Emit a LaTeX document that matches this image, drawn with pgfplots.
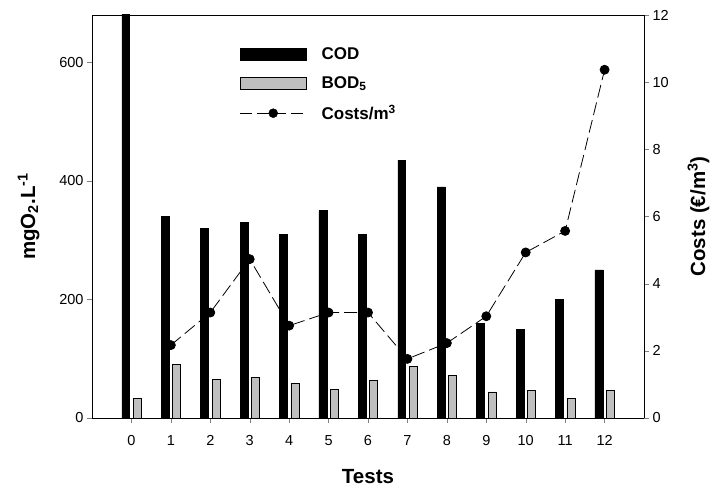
\documentclass[border=0pt]{standalone}
\usepackage{pgfplots}
\pgfplotsset{compat=1.18}
\usepackage{fontspec}
\setmainfont{Liberation Sans}
\begin{document}
\begin{tikzpicture}
\pgfplotsset{
  every axis/.append style={
    scale only axis, width=552pt, height=403pt,
    xmin=-1, xmax=13,
    tick align=outside, major tick length=5pt,
    /pgf/number format/assume math mode=true,
    tick label style={font=\fontsize{14.5}{16}\selectfont},
    label style={font=\bfseries\fontsize{20.5}{24}\selectfont},
    axis line style={line width=0.9pt},
  }
}
\begin{axis}[
  ymin=0, ymax=680,
  xtick={0,...,12}, xtick pos=bottom,
  ytick={0,200,400,600}, ytick pos=left,
  xticklabel style={yshift=-9pt},
  xlabel={Tests},
  ylabel={mgO\textsubscript{2}.L\textsuperscript{-1}},
  xlabel style={yshift=-17pt},
  ylabel style={yshift=13pt},
  ybar, bar width=0.2,
  legend style={draw=none, fill=none, at={(rel axis cs:0.262,0.93)}, anchor=north west,
    font=\bfseries\fontsize{17}{19}\selectfont, row sep=11.5pt,
    legend cell align=left,
    /tikz/every odd column/.append style={column sep=13pt}},
  legend image code/.code={\draw[#1] (0pt,-6pt) rectangle (66pt,6pt);},
]
\addplot[fill=black, draw=black, bar shift=-0.145] coordinates {
  (0,700) (1,340) (2,320) (3,330) (4,310) (5,350) (6,310)
  (7,435) (8,390) (9,160) (10,150) (11,200) (12,250)};
\addlegendentry{COD}
\addplot[fill=black!25, draw=black, line width=0.6pt, bar shift=0.145] coordinates {
  (0,33) (1,90) (2,65) (3,68) (4,59) (5,48) (6,63)
  (7,87) (8,72) (9,44) (10,46) (11,33) (12,47)};
\addlegendentry{BOD\textsubscript{5}}
\addlegendimage{legend image code/.code={
  \draw[black, line width=0.8pt, dash pattern=on 12pt off 5pt] (0pt,0pt) -- (66pt,0pt);
  \fill[black] (33pt,0pt) circle (4.5pt);}}
\addlegendentry{Costs/m\textsuperscript{3}}
\coordinate (sw) at (rel axis cs:0,0);
\coordinate (ne) at (rel axis cs:1,1);
\end{axis}
\begin{axis}[
  ymin=0, ymax=12,
  ytick={0,2,...,12},
  axis y line*=right, hide x axis,
  ylabel={Costs (€/m\textsuperscript{3})},
  ylabel style={yshift=-12pt},
]
\addplot[black, line width=0.8pt, dash pattern=on 13pt off 5pt,
  mark=*, mark size=4.5pt, mark options={solid, fill=black}] coordinates {
  (1,2.17) (2,3.14) (3,4.73) (4,2.75) (5,3.14) (6,3.14) (7,1.76)
  (8,2.23) (9,3.03) (10,4.93) (11,5.57) (12,10.37)};
\end{axis}
\path ([shift={(-92pt,-71pt)}]sw) rectangle ([shift={(69pt,15pt)}]ne);
\end{tikzpicture}
\end{document}
